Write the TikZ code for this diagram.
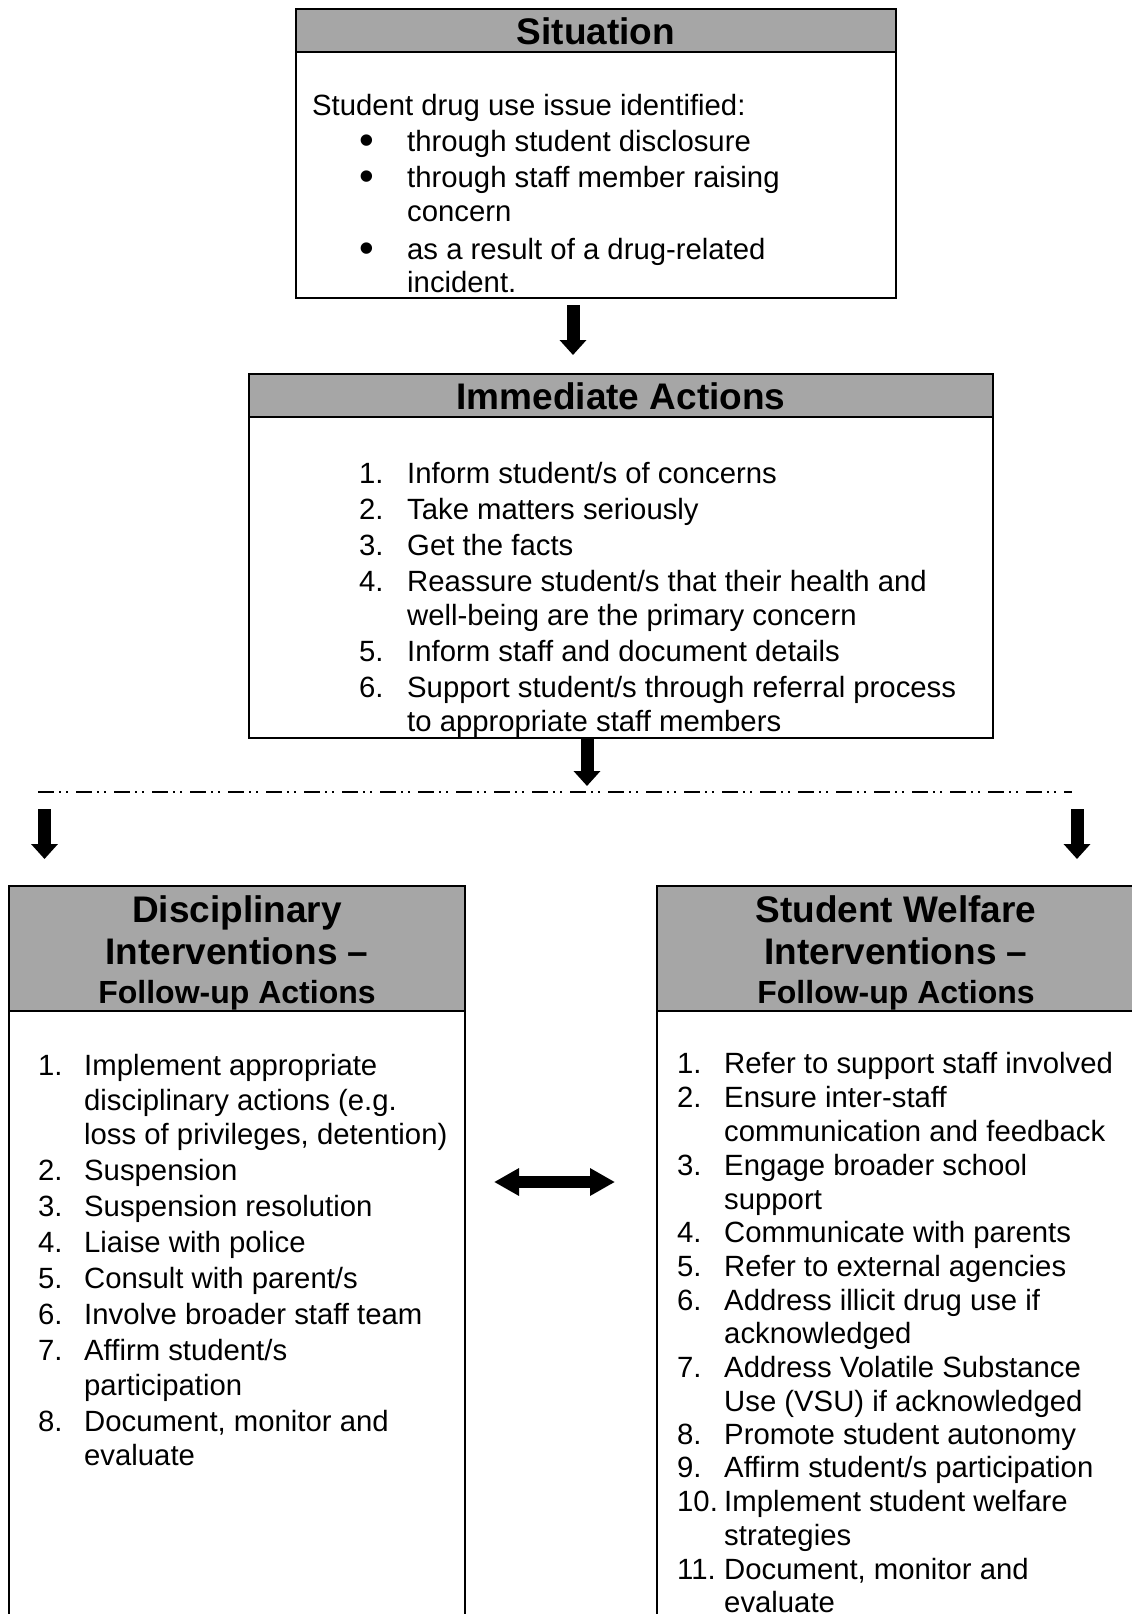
\documentclass[tikz,border=0pt]{standalone}
\usepackage{fontspec}
\setmainfont{Liberation Sans}
\usetikzlibrary{arrows.meta}
\definecolor{headgray}{RGB}{166,166,166}
\tikzset{
  boxline/.style={draw=black, line width=2pt, inner sep=0pt, outer sep=0pt, anchor=north west},
  headfill/.style={boxline, fill=headgray},
  txt/.style={anchor=base west, inner sep=0pt, yshift=-2pt, font=\fontsize{29.3}{35}\selectfont},
  bul/.style={anchor=base, inner sep=0pt, yshift=-5pt, font=\fontsize{42}{42}\selectfont},
  headtxt/.style={anchor=base, inner sep=0pt, font=\fontsize{37}{42}\selectfont\bfseries},
  subhead/.style={anchor=base, inner sep=0pt, font=\fontsize{32}{36}\selectfont\bfseries},
  downarrow/.style={line width=13pt, -{Triangle[width=26pt,length=15pt]}},
  botharrow/.style={line width=12pt, {Triangle[width=26pt,length=25pt]}-{Triangle[width=26pt,length=25pt]}},
  sepline/.style={line width=2pt, dash pattern=on 16pt off 5pt on 2pt off 5pt on 2pt off 8pt},
}
\begin{document}
\begin{tikzpicture}[x=1pt,y=-1pt]
\useasboundingbox (0,0) rectangle (1132,1614);
\clip (0,0) rectangle (1132,1614);
\fill[white] (0,0) rectangle (1132,1614);

% Situation box
\node[headfill, minimum width=600pt, minimum height=43pt] (sith) at (296,9) {};
\node[boxline, minimum width=600pt, minimum height=246pt] (sitb) at (296,52) {};
\node[headtxt] (tsit) at (596,44) {Situation};
\node[txt] (s0) at (312,113) {Student drug use issue identified:};
\node[bul] (b1) at (367,149) {•};
\node[txt] (s1) at (407,149) {through student disclosure};
\node[bul] (b2) at (367,185) {•};
\node[txt] (s2) at (407,185) {through staff member raising};
\node[txt] (s3) at (407,219) {concern};
\node[bul] (b3) at (367,257) {•};
\node[txt] (s4) at (407,257) {as a result of a drug-related};
\node[txt] (s5) at (407,290) {incident.};

% Immediate actions box
\node[headfill, minimum width=744pt, minimum height=43pt] (immh) at (249,374) {};
\node[boxline, minimum width=744pt, minimum height=321pt] (immb) at (249,417) {};
\node[headtxt] (timm) at (621,409) {Immediate Actions};
\node[txt] (in1) at (359,481) {1.};
\node[txt] (i1) at (407,481) {Inform student/s of concerns};
\node[txt] (in2) at (359,517) {2.};
\node[txt] (i2) at (407,517) {Take matters seriously};
\node[txt] (in3) at (359,553) {3.};
\node[txt] (i3) at (407,553) {Get the facts};
\node[txt] (in4) at (359,589) {4.};
\node[txt] (i4) at (407,589) {Reassure student/s that their health and};
\node[txt] (i4b) at (407,623) {well-being are the primary concern};
\node[txt] (in5) at (359,659) {5.};
\node[txt] (i5) at (407,659) {Inform staff and document details};
\node[txt] (in6) at (359,695) {6.};
\node[txt] (i6) at (407,695) {Support student/s through referral process};
\node[txt] (i6b) at (407,729) {to appropriate staff members};

% Disciplinary box
\node[headfill, minimum width=456pt, minimum height=125pt] (dish) at (9,886) {};
\node[boxline, minimum width=456pt, minimum height=640pt] (disb) at (9,1011) {};
\node[headtxt] (td1) at (237,922) {Disciplinary};
\node[headtxt] (td2) at (237,964) {Interventions –};
\node[subhead] (td3) at (237,1003) {Follow-up Actions};
\node[txt] (dn1) at (38,1073) {1.};
\node[txt] (d1) at (84,1073) {Implement appropriate};
\node[txt] (d1b) at (84,1108) {disciplinary actions (e.g.};
\node[txt] (d1c) at (84,1142) {loss of privileges, detention)};
\node[txt] (dn2) at (38,1178) {2.};
\node[txt] (d2) at (84,1178) {Suspension};
\node[txt] (dn3) at (38,1214) {3.};
\node[txt] (d3) at (84,1214) {Suspension resolution};
\node[txt] (dn4) at (38,1250) {4.};
\node[txt] (d4) at (84,1250) {Liaise with police};
\node[txt] (dn5) at (38,1286) {5.};
\node[txt] (d5) at (84,1286) {Consult with parent/s};
\node[txt] (dn6) at (38,1322) {6.};
\node[txt] (d6) at (84,1322) {Involve broader staff team};
\node[txt] (dn7) at (38,1358) {7.};
\node[txt] (d7) at (84,1358) {Affirm student/s};
\node[txt] (d7b) at (84,1393) {participation};
\node[txt] (dn8) at (38,1429) {8.};
\node[txt] (d8) at (84,1429) {Document, monitor and};
\node[txt] (d8b) at (84,1463) {evaluate};

% Welfare box
\node[headfill, minimum width=478pt, minimum height=125pt] (welh) at (657,886) {};
\node[boxline, minimum width=478pt, minimum height=640pt] (welb) at (657,1011) {};
\node[headtxt] (tw1) at (896,922) {Student Welfare};
\node[headtxt] (tw2) at (896,964) {Interventions –};
\node[subhead] (tw3) at (896,1003) {Follow-up Actions};
\node[txt] (wn1) at (677,1071) {1.};
\node[txt] (w1) at (724,1071) {Refer to support staff involved};
\node[txt] (wn2) at (677,1105) {2.};
\node[txt] (w2) at (724,1105) {Ensure inter-staff};
\node[txt] (w2b) at (724,1139) {communication and feedback};
\node[txt] (wn3) at (677,1173) {3.};
\node[txt] (w3) at (724,1173) {Engage broader school};
\node[txt] (w3b) at (724,1207) {support};
\node[txt] (wn4) at (677,1240) {4.};
\node[txt] (w4) at (724,1240) {Communicate with parents};
\node[txt] (wn5) at (677,1274) {5.};
\node[txt] (w5) at (724,1274) {Refer to external agencies};
\node[txt] (wn6) at (677,1308) {6.};
\node[txt] (w6) at (724,1308) {Address illicit drug use if};
\node[txt] (w6b) at (724,1341) {acknowledged};
\node[txt] (wn7) at (677,1375) {7.};
\node[txt] (w7) at (724,1375) {Address Volatile Substance};
\node[txt] (w7b) at (724,1409) {Use (VSU) if acknowledged};
\node[txt] (wn8) at (677,1442) {8.};
\node[txt] (w8) at (724,1442) {Promote student autonomy};
\node[txt] (wn9) at (677,1475) {9.};
\node[txt] (w9) at (724,1475) {Affirm student/s participation};
\node[txt] (wn10) at (677,1509) {10.};
\node[txt] (w10) at (724,1509) {Implement student welfare};
\node[txt] (w10b) at (724,1543) {strategies};
\node[txt] (wn11) at (677,1577) {11.};
\node[txt] (w11) at (724,1577) {Document, monitor and};
\node[txt] (w11b) at (724,1610) {evaluate};

% connectors
\coordinate (a1s) at (573,305);
\coordinate (a1e) at (573,355);
\coordinate (a2s) at (587,739);
\coordinate (a2e) at (587,786);
\coordinate (sepl) at (38,792);
\coordinate (sepr) at (1072,792);
\coordinate (a3s) at (44.5,809);
\coordinate (a3e) at (44.5,859);
\coordinate (a4s) at (1077,809);
\coordinate (a4e) at (1077,859);
\coordinate (dl) at (494,1182);
\coordinate (dr) at (615,1182);

\draw[downarrow] (a1s) -- (a1e);
\draw[downarrow] (a2s) -- (a2e);
\draw[sepline] (sepl) -- (sepr);
\draw[downarrow] (a3s) -- (a3e);
\draw[downarrow] (a4s) -- (a4e);
\draw[botharrow] (dl) -- (dr);
\end{tikzpicture}
\end{document}
